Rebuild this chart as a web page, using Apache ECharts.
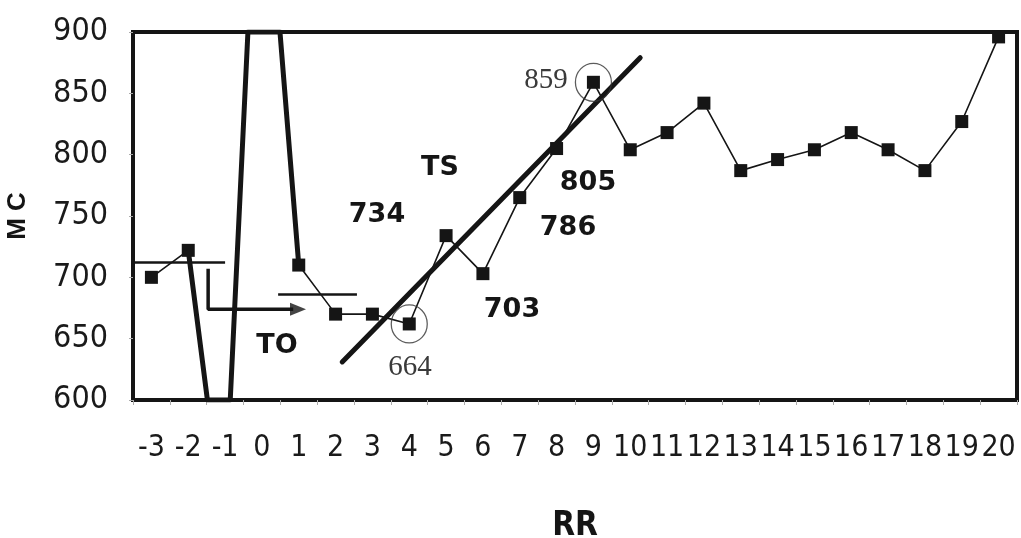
<!DOCTYPE html>
<html>
<head>
<meta charset="utf-8">
<script src="https://cdn.jsdelivr.net/npm/echarts@6/dist/echarts.min.js"></script>
<style>
html,body{margin:0;padding:0;background:#fff;}
#chart{width:1021px;height:538px;}
</style>
</head>
<body>
<div id="chart"></div>
<script>
// Categories (RR) and the thin marker series (MC)
const categories = ['-3','-2','-1','0','1','2','3','4','5','6','7','8','9','10','11','12','13','14','15','16','17','18','19','20'];
const mcValues = [700, 722, null, null, 710, 670, 670, 662, 734, 703, 765, 805, 859, 804, 818, 842, 787, 796, 804, 818, 804, 787, 827, 896];
const yTicks = { min: 600, max: 900, step: 50 };

// Thick spike line [RR, MC]
const spikeLine = [[-2, 722], [-1.48, 600], [-0.86, 600], [-0.38, 900], [0.49, 900], [1, 710]];
// Trend line TS [RR, MC]
const trendLine = [[2.18, 631], [10.27, 879]];
// Thin horizontal reference lines [RR, MC]
const hLine1 = [[-3.63, 712], [-1.0, 712]];
const hLine2 = [[0.44, 686], [2.58, 686]];
// TO arrow path [RR, MC] and its head
const arrowPath = [[-1.46, 707], [-1.46, 674], [0.85, 674]];
const arrowHead = [[0.98, 674]];
// Circled points [RR, MC]
const circled = [[4, 662], [9, 859]];

// Annotation texts
const boldNotes = ['TS', '734', '805', '786', '703', 'TO'];
const serifNotes = ['664', '859'];

const chart = echarts.init(document.getElementById('chart'), null, {renderer: 'canvas'});
const narrow = "'Liberation Sans Narrow', 'Arial Narrow', 'DejaVu Sans Condensed', sans-serif";
const ink = '#151515';

const notePos = { 'TS': [440,168], '734': [377,215], '805': [588,183], '786': [568,228], '703': [512,310], 'TO': [277,346] };
const serifPos = { '664': [410,367], '859': [546,80] };

const graphics = [];
boldNotes.forEach(t => {
  graphics.push({ type: 'text', x: notePos[t][0], y: notePos[t][1],
    style: { text: t, fill: ink, font: "bold 27px 'DejaVu Sans', sans-serif", align: 'center', verticalAlign: 'middle' } });
});
serifNotes.forEach(t => {
  graphics.push({ type: 'text', x: serifPos[t][0], y: serifPos[t][1],
    style: { text: t, fill: '#3a3a3a', font: "29px 'Liberation Serif', serif", align: 'center', verticalAlign: 'middle' } });
});

const option = {
  backgroundColor: '#fff',
  animation: false,
  grid: { left: 133, right: 4, top: 32, bottom: 138, containLabel: false, outerBoundsMode: 'none',
          show: true, borderColor: ink, borderWidth: 4, backgroundColor: 'transparent' },
  xAxis: [
    { type: 'category', data: categories, boundaryGap: true,
      axisLine: { show: true, onZero: false, lineStyle: { color: ink, width: 4 } },
      axisTick: { show: true, length: 5, lineStyle: { color: '#aaa', width: 1 } },
      axisLabel: { color: '#1a1a1a', fontFamily: narrow, fontSize: 30, margin: 33, interval: 0 },
      name: 'RR', nameLocation: 'middle', nameGap: 110,
      nameTextStyle: { color: ink, fontFamily: narrow, fontWeight: 'bold', fontSize: 33 },
      splitLine: { show: false } },
    { type: 'value', min: -3.5, max: 20.5, show: false }
  ],
  yAxis: {
    type: 'value', min: yTicks.min, max: yTicks.max, interval: yTicks.step,
    axisLine: { show: true, onZero: false, lineStyle: { color: ink, width: 4 } },
    axisTick: { show: true, length: 4, lineStyle: { color: '#aaa' } },
    axisLabel: { color: '#1a1a1a', fontFamily: narrow, fontSize: 32, margin: 25 },
    splitLine: { show: false },
    name: 'M C', nameLocation: 'middle', nameGap: 102, nameRotate: 90,
    nameTextStyle: { color: ink, fontFamily: "Arial, 'Liberation Sans', sans-serif", fontWeight: 'bold', fontSize: 26 }
  },
  graphic: graphics,
  series: [
    { type: 'line', xAxisIndex: 0, data: mcValues, connectNulls: false,
      symbol: 'rect', symbolSize: 13, itemStyle: { color: ink },
      lineStyle: { color: ink, width: 1.6 }, z: 3 },
    { type: 'line', xAxisIndex: 1, data: spikeLine, symbol: 'none',
      lineStyle: { color: ink, width: 5, join: 'round' }, z: 4 },
    { type: 'line', xAxisIndex: 1, data: trendLine, symbol: 'none',
      lineStyle: { color: ink, width: 5, cap: 'round' }, z: 4 },
    { type: 'line', xAxisIndex: 1, data: hLine1, symbol: 'none', clip: false,
      lineStyle: { color: ink, width: 2.5 }, z: 4 },
    { type: 'line', xAxisIndex: 1, data: hLine2, symbol: 'none',
      lineStyle: { color: ink, width: 2.5 }, z: 4 },
    { type: 'line', xAxisIndex: 1, data: arrowPath, symbol: 'none',
      lineStyle: { color: ink, width: 3.5 }, z: 4 },
    { type: 'scatter', xAxisIndex: 1, data: arrowHead, symbol: 'triangle', symbolRotate: -90, symbolSize: [13, 16],
      itemStyle: { color: ink }, z: 4 },
    { type: 'scatter', xAxisIndex: 1, data: circled, symbol: 'circle', symbolSize: [36, 38],
      itemStyle: { color: 'rgba(0,0,0,0)', borderColor: '#333', borderWidth: 1.3 }, z: 5 }
  ]
};
chart.setOption(option);
</script>
</body>
</html>
